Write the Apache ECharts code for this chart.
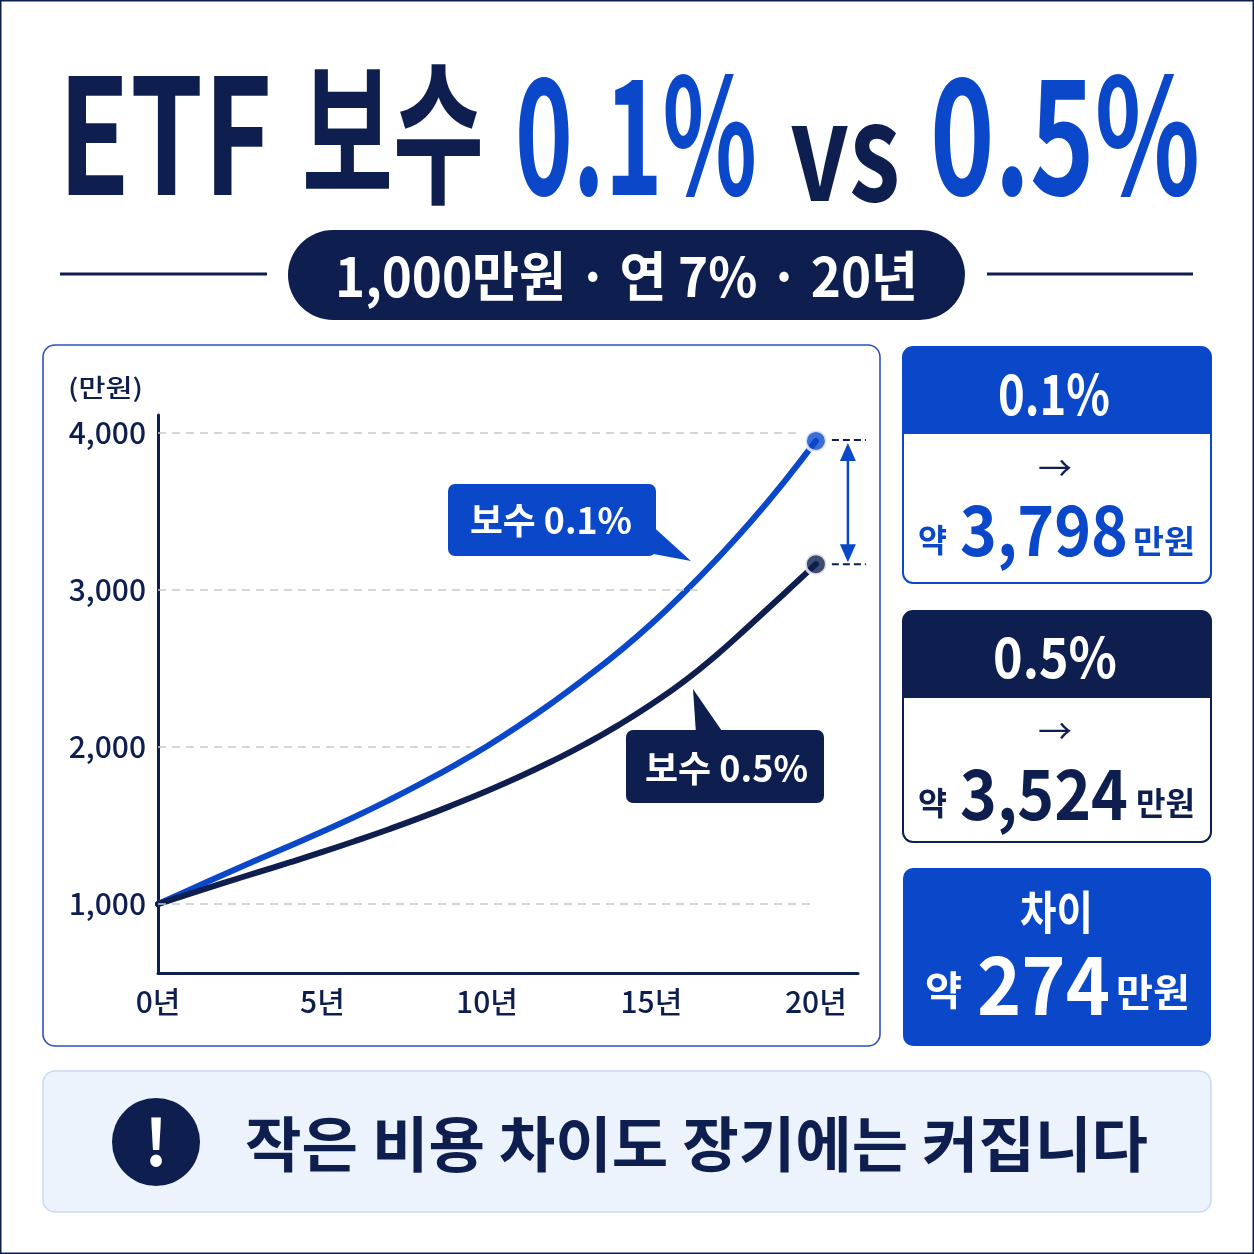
<!DOCTYPE html>
<html><head><meta charset="utf-8">
<script src="https://cdn.jsdelivr.net/npm/echarts@6/dist/echarts.min.js"></script>
<style>html,body{margin:0;padding:0;background:#fff}#c{width:1254px;height:1254px}</style>
</head><body><div id="c"></div>
<script>
// ---- data ----
const years = [0,1,2,3,4,5,6,7,8,9,10,11,12,13,14,15,16,17,18,19,20];
const fee01 = [1000,1095,1188,1280,1370,1462,1558,1660,1768,1882,2005,2140,2285,2440,2605,2785,2985,3200,3430,3680,3950];
const fee05 = [1000,1068,1135,1200,1265,1332,1402,1475,1552,1634,1720,1812,1912,2020,2140,2273,2420,2590,2778,2970,3165];
const yTicks = [1000,2000,3000,4000];
const xTicks = [0,5,10,15,20];
const gridEnds = [19.9, 9.5, 16.4, 19.4];   // year where each dashed gridline stops
const seriesNames = ['보수 0.1%', '보수 0.5%'];
const feeLabels = ['0.1%', '0.5%'];
const finalValues = [3798, 3524];
const diffValue = 274;
const titleText = ['ETF', '보수', '0.1%', 'vs', '0.5%'];
const subtitle = '1,000만원 · 연 7% · 20년';
const footer = '작은 비용 차이도 장기에는 커집니다';
const unitLabel = '(만원)';

const NAVY = '#0e1f4f', BLUE = '#0b48c9', GRID = '#c6c9d1';
const FONT = '"Noto Sans CJK KR","Noto Sans",sans-serif';
const fmt = v => String(v).replace(/\B(?=(\d{3})+(?!\d))/g, ',');

const mctx = document.createElement('canvas').getContext('2d');
function tw(t, font){ mctx.font = font; return mctx.measureText(t).width; }
function fit(t, left, right, cy, size, color, weight){
  weight = weight || 'bold';
  const font = weight + ' ' + size + 'px ' + FONT;
  const s = (right - left) / tw(t, font);
  return {type:'text', x:left, y:cy, scaleX:s, z:30,
    style:{text:t, x:0, y:0, font:font, fill:color, align:'left', textAlign:'left', verticalAlign:'middle', textVerticalAlign:'middle'}};
}
function ctext(t, cx, cy, size, color, weight){
  const font = (weight||'bold') + ' ' + size + 'px ' + FONT;
  return {type:'text', x:cx, y:cy, z:30,
    style:{text:t, x:0, y:0, font:font, fill:color, align:'center', textAlign:'center', verticalAlign:'middle', textVerticalAlign:'middle'}};
}

const chart = echarts.init(document.getElementById('c'), null, {renderer:'canvas'});

chart.setOption({
  backgroundColor:'#ffffff',
  animation:false,
  grid:{left:158, right:396, top:415, bottom:281, containLabel:false},
  xAxis:{type:'value', min:0, max:21.28,
    axisLine:{show:true, onZero:false, lineStyle:{color:NAVY, width:3}},
    axisTick:{show:false, customValues:xTicks},
    splitLine:{show:false},
    axisLabel:{customValues:xTicks, formatter:v => v + '년', color:NAVY, fontSize:30, fontWeight:500, fontFamily:FONT, margin:14}
  },
  yAxis:{type:'value', min:561, max:4115,
    axisLine:{show:true, onZero:false, lineStyle:{color:NAVY, width:3}},
    axisTick:{show:false, customValues:yTicks},
    splitLine:{show:false},
    axisLabel:{customValues:yTicks, formatter:v => fmt(v), color:NAVY, fontSize:30, fontWeight:500, fontFamily:FONT, margin:12}
  },
  series:[
    {type:'line', name:'grid', data:[], silent:true, z:1,
      markLine:{silent:true, symbol:['none','none'], label:{show:false},
        lineStyle:{color:GRID, width:1.5, type:[8,6]},
        data:yTicks.map((v,i) => [{coord:[0,v]},{coord:[gridEnds[i],v]}])}
    },
    {type:'line', name:seriesNames[0], data:years.map((x,i)=>[x,fee01[i]]), smooth:0.5, symbol:'none',
      lineStyle:{color:BLUE, width:6, cap:'round'}, z:4},
    {type:'line', name:seriesNames[1], data:years.map((x,i)=>[x,fee05[i]]), smooth:0.5, symbol:'none',
      lineStyle:{color:NAVY, width:6, cap:'round'}, z:4},
    {type:'scatter', data:[[years[20], fee01[20]]], symbolSize:21,
      itemStyle:{color:BLUE, borderColor:'#fff', borderWidth:3}, z:6},
    {type:'scatter', data:[[years[20], fee05[20]]], symbolSize:21,
      itemStyle:{color:NAVY, borderColor:'#fff', borderWidth:3}, z:6}
  ]
});

const pA = chart.convertToPixel({gridIndex:0}, [years[20], fee01[20]]);
const pB = chart.convertToPixel({gridIndex:0}, [years[20], fee05[20]]);
const ax = pA[0] + 32;

const g = [];
// page border
g.push({type:'rect', z:-5, shape:{x:0.75,y:0.75,width:1252.5,height:1252.5}, style:{fill:'#fff', stroke:NAVY, lineWidth:1.5}});
// title
g.push(fit(titleText[0], 58, 272, 134, 160, NAVY));
g.push(fit(titleText[1], 302, 484, 132, 156, NAVY));
g.push(fit(titleText[2], 515, 757, 134, 160, BLUE));
g.push(fit(titleText[3], 790, 900, 150, 134, NAVY));
g.push(fit(titleText[4], 930, 1200, 134, 160, BLUE));
// subtitle pill + side rules
g.push({type:'line', z:1, shape:{x1:60,y1:274,x2:267,y2:274}, style:{stroke:NAVY, lineWidth:3}});
g.push({type:'line', z:1, shape:{x1:987,y1:274,x2:1193,y2:274}, style:{stroke:NAVY, lineWidth:3}});
g.push({type:'rect', z:1, shape:{x:288,y:230,width:677,height:90,r:45}, style:{fill:NAVY}});
g.push(fit(subtitle, 335, 918, 276, 54, '#ffffff'));
// chart panel
g.push({type:'rect', z:-1, shape:{x:43,y:345,width:837,height:701,r:12}, style:{fill:'#fff', stroke:'#2b50c4', lineWidth:1.6}});
g.push(fit(unitLabel, 68, 143, 387, 25, NAVY, 500));
// callout 0.1%
g.push({type:'polygon', z:20, shape:{points:[[648,522],[691,561],[648,553]]}, style:{fill:BLUE}});
g.push({type:'rect', z:20, shape:{x:448,y:484,width:208,height:72,r:7}, style:{fill:BLUE}});
g.push(fit(seriesNames[0], 470, 632, 520, 36, '#fff'));
// callout 0.5%
g.push({type:'polygon', z:20, shape:{points:[[693,689],[696,734],[724,734]]}, style:{fill:NAVY}});
g.push({type:'rect', z:20, shape:{x:626,y:730,width:198,height:73,r:7}, style:{fill:NAVY}});
g.push(fit(seriesNames[1], 645, 808, 768, 36, '#fff'));
// difference arrow
g.push({type:'line', z:20, shape:{x1:pA[0]+16,y1:pA[1]-1,x2:pA[0]+50,y2:pA[1]-1}, style:{stroke:NAVY, lineWidth:2, lineDash:[7,4]}});
g.push({type:'line', z:20, shape:{x1:pB[0]+16,y1:pB[1],x2:pB[0]+50,y2:pB[1]}, style:{stroke:NAVY, lineWidth:2, lineDash:[7,4]}});
g.push({type:'line', z:20, shape:{x1:ax,y1:pA[1]+14,x2:ax,y2:pB[1]-14}, style:{stroke:BLUE, lineWidth:2.5}});
g.push({type:'polygon', z:20, shape:{points:[[ax,pA[1]+2],[ax-8,pA[1]+20],[ax+8,pA[1]+20]]}, style:{fill:BLUE}});
g.push({type:'polygon', z:20, shape:{points:[[ax,pB[1]-2],[ax-8,pB[1]-20],[ax+8,pB[1]-20]]}, style:{fill:BLUE}});
// card 1
g.push({type:'rect', z:1, shape:{x:903,y:347,width:308,height:236,r:10}, style:{fill:'#fff', stroke:BLUE, lineWidth:2}});
g.push({type:'rect', z:2, shape:{x:903,y:347,width:308,height:87,r:[10,10,0,0]}, style:{fill:BLUE}});
g.push(fit(feeLabels[0], 998, 1110, 394, 56, '#fff'));
g.push(ctext('→', 1055, 468, 34, NAVY, 'normal'));
g.push(fit('약', 918, 947, 540, 32, BLUE));
g.push(fit(fmt(finalValues[0]), 960, 1128, 529, 70, BLUE));
g.push(fit('만원', 1133, 1195, 541, 32, BLUE));
// card 2
g.push({type:'rect', z:1, shape:{x:903,y:611,width:308,height:231,r:10}, style:{fill:'#fff', stroke:NAVY, lineWidth:2}});
g.push({type:'rect', z:2, shape:{x:903,y:611,width:308,height:87,r:[10,10,0,0]}, style:{fill:NAVY}});
g.push(fit(feeLabels[1], 993, 1117, 657, 56, '#fff'));
g.push(ctext('→', 1055, 731, 34, NAVY, 'normal'));
g.push(fit('약', 918, 947, 803, 32, NAVY));
g.push(fit(fmt(finalValues[1]), 960, 1128, 793, 70, NAVY));
g.push(fit('만원', 1136, 1195, 803, 32, NAVY));
// card 3
g.push({type:'rect', z:1, shape:{x:903,y:868,width:308,height:178,r:10}, style:{fill:BLUE}});
g.push(fit('차이', 1020, 1093, 912, 46, '#fff'));
g.push(fit('약', 925, 962, 990, 40, '#fff'));
g.push(fit(fmt(diffValue), 977, 1110, 985, 80, '#fff'));
g.push(fit('만원', 1116, 1190, 992, 38, '#fff'));
// footer banner
g.push({type:'rect', z:1, shape:{x:43,y:1071,width:1168,height:141,r:12}, style:{fill:'#ecf3fd', stroke:'#c8daf4', lineWidth:1.5}});
g.push({type:'circle', z:2, shape:{cx:156,cy:1142,r:44}, style:{fill:NAVY}});
g.push(ctext('!', 156, 1142, 64, '#fff'));
g.push(fit(footer, 245, 1148, 1144, 60, NAVY));

chart.setOption({graphic:{elements:g}});
</script>
</body></html>
